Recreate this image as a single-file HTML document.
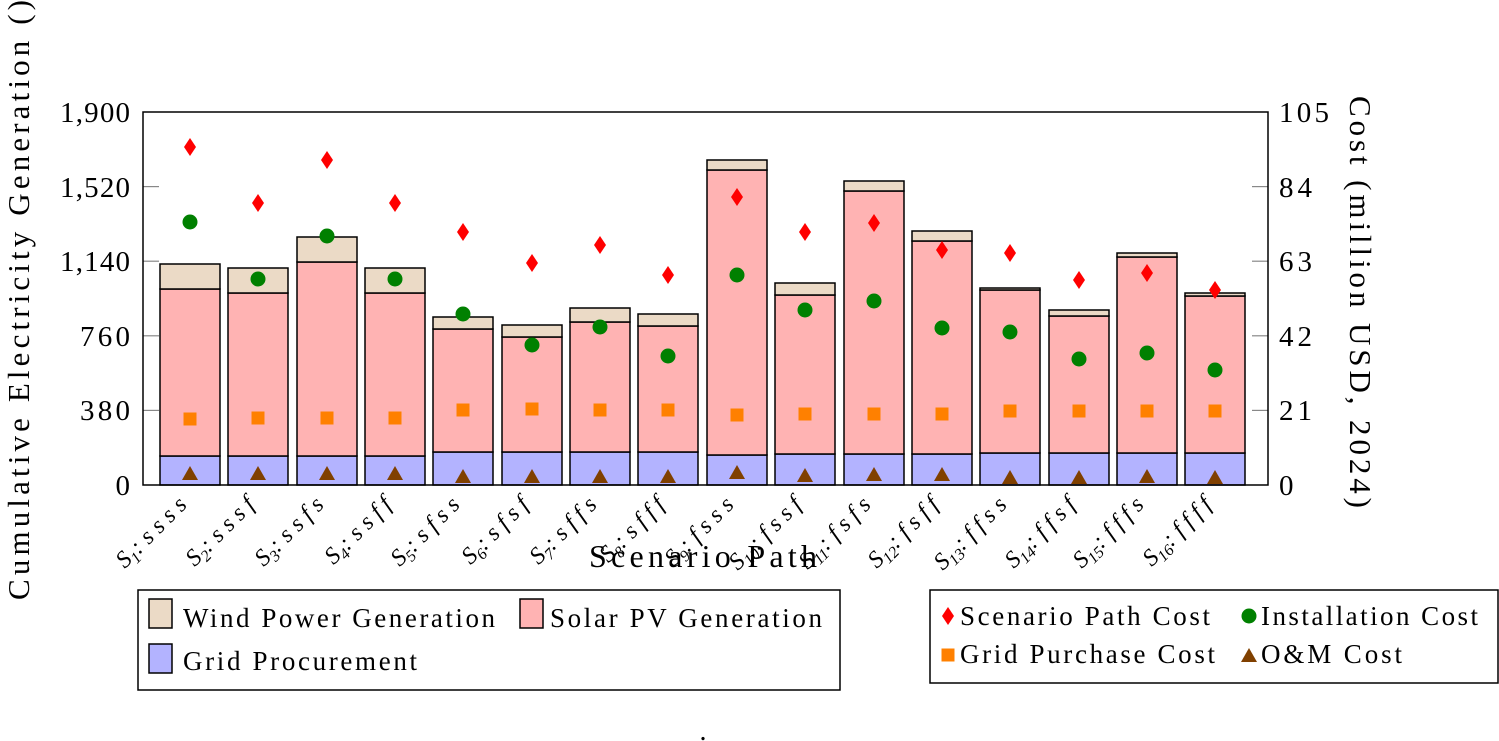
<!DOCTYPE html>
<html><head><meta charset="utf-8"><style>
html,body{margin:0;padding:0;background:#fff;}
svg{display:block;}
text{font-family:"Liberation Serif",serif;fill:#000;}
</style></head><body>
<svg width="1499" height="741" viewBox="0 0 1499 741" xmlns="http://www.w3.org/2000/svg">
<defs>
<polygon id="dm" points="0,-9 6,0 0,9 -6,0" fill="#f00"/>
<circle id="ci" cx="0" cy="0" r="7.5" fill="#008000"/>
<rect id="sq" x="-6.5" y="-6.5" width="13" height="13" fill="#ff8000"/>
<polygon id="tr" points="-8,7 0,-7 8,7" fill="#804000"/>
</defs>
<g stroke="#888" stroke-width="1.2">
<line x1="143" y1="410.4" x2="159" y2="410.4"/><line x1="143" y1="335.8" x2="159" y2="335.8"/><line x1="143" y1="261.2" x2="159" y2="261.2"/><line x1="143" y1="186.6" x2="159" y2="186.6"/>
<line x1="1252" y1="410.4" x2="1268" y2="410.4"/><line x1="1252" y1="335.8" x2="1268" y2="335.8"/><line x1="1252" y1="261.2" x2="1268" y2="261.2"/><line x1="1252" y1="186.6" x2="1268" y2="186.6"/>
</g>
<g stroke="#000" stroke-width="1.5">
<g fill="#b3b3ff">
<rect x="160" y="456" width="60" height="29"/><rect x="228" y="456" width="60" height="29"/><rect x="297" y="456" width="60" height="29"/><rect x="365" y="456" width="60" height="29"/>
<rect x="433" y="452" width="60" height="33"/><rect x="502" y="452" width="60" height="33"/><rect x="570" y="452" width="60" height="33"/><rect x="638" y="452" width="60" height="33"/>
<rect x="707" y="455" width="60" height="30"/><rect x="775" y="454" width="60" height="31"/><rect x="844" y="454" width="60" height="31"/><rect x="912" y="454" width="60" height="31"/>
<rect x="980" y="453" width="60" height="32"/><rect x="1049" y="453" width="60" height="32"/><rect x="1117" y="453" width="60" height="32"/><rect x="1185" y="453" width="60" height="32"/>
</g>
<g fill="#ffb3b3">
<rect x="160" y="289" width="60" height="167"/><rect x="228" y="293" width="60" height="163"/><rect x="297" y="262" width="60" height="194"/><rect x="365" y="293" width="60" height="163"/>
<rect x="433" y="329" width="60" height="123"/><rect x="502" y="337" width="60" height="115"/><rect x="570" y="322" width="60" height="130"/><rect x="638" y="326" width="60" height="126"/>
<rect x="707" y="170" width="60" height="285"/><rect x="775" y="295" width="60" height="159"/><rect x="844" y="191" width="60" height="263"/><rect x="912" y="241" width="60" height="213"/>
<rect x="980" y="290" width="60" height="163"/><rect x="1049" y="316" width="60" height="137"/><rect x="1117" y="257" width="60" height="196"/><rect x="1185" y="296" width="60" height="157"/>
</g>
<g fill="#ebdac6">
<rect x="160" y="264" width="60" height="25"/><rect x="228" y="268" width="60" height="25"/><rect x="297" y="237" width="60" height="25"/><rect x="365" y="268" width="60" height="25"/>
<rect x="433" y="317" width="60" height="12"/><rect x="502" y="325" width="60" height="12"/><rect x="570" y="308" width="60" height="14"/><rect x="638" y="314" width="60" height="12"/>
<rect x="707" y="160" width="60" height="10"/><rect x="775" y="283" width="60" height="12"/><rect x="844" y="181" width="60" height="10"/><rect x="912" y="231" width="60" height="10"/>
<rect x="980" y="288" width="60" height="2"/><rect x="1049" y="310" width="60" height="6"/><rect x="1117" y="253" width="60" height="4"/><rect x="1185" y="293" width="60" height="3"/>
</g>
</g>
<g>
<use href="#dm" x="190" y="147"/><use href="#ci" x="190" y="222"/><use href="#sq" x="190" y="419"/><use href="#tr" x="190" y="473"/>
<use href="#dm" x="258" y="203"/><use href="#ci" x="258" y="279"/><use href="#sq" x="258" y="418"/><use href="#tr" x="258" y="473"/>
<use href="#dm" x="327" y="160"/><use href="#ci" x="327" y="236"/><use href="#sq" x="327" y="418"/><use href="#tr" x="327" y="473"/>
<use href="#dm" x="395" y="203"/><use href="#ci" x="395" y="279"/><use href="#sq" x="395" y="418"/><use href="#tr" x="395" y="473"/>
<use href="#dm" x="463" y="232"/><use href="#ci" x="463" y="314"/><use href="#sq" x="463" y="410"/><use href="#tr" x="463" y="476"/>
<use href="#dm" x="532" y="263"/><use href="#ci" x="532" y="345"/><use href="#sq" x="532" y="409"/><use href="#tr" x="532" y="476"/>
<use href="#dm" x="600" y="245"/><use href="#ci" x="600" y="327"/><use href="#sq" x="600" y="410"/><use href="#tr" x="600" y="476"/>
<use href="#dm" x="668" y="275"/><use href="#ci" x="668" y="356"/><use href="#sq" x="668" y="410"/><use href="#tr" x="668" y="476"/>
<use href="#dm" x="737" y="197"/><use href="#ci" x="737" y="275"/><use href="#sq" x="737" y="415"/><use href="#tr" x="737" y="472"/>
<use href="#dm" x="805" y="232"/><use href="#ci" x="805" y="310"/><use href="#sq" x="805" y="414"/><use href="#tr" x="805" y="475"/>
<use href="#dm" x="874" y="223"/><use href="#ci" x="874" y="301"/><use href="#sq" x="874" y="414"/><use href="#tr" x="874" y="474"/>
<use href="#dm" x="942" y="250"/><use href="#ci" x="942" y="328"/><use href="#sq" x="942" y="414"/><use href="#tr" x="942" y="474"/>
<use href="#dm" x="1010" y="253"/><use href="#ci" x="1010" y="332"/><use href="#sq" x="1010" y="411"/><use href="#tr" x="1010" y="477"/>
<use href="#dm" x="1079" y="280"/><use href="#ci" x="1079" y="359"/><use href="#sq" x="1079" y="411"/><use href="#tr" x="1079" y="477"/>
<use href="#dm" x="1147" y="273"/><use href="#ci" x="1147" y="353"/><use href="#sq" x="1147" y="411"/><use href="#tr" x="1147" y="476"/>
<use href="#dm" x="1215" y="290"/><use href="#ci" x="1215" y="370"/><use href="#sq" x="1215" y="411"/><use href="#tr" x="1215" y="477"/>
</g>
<rect x="143" y="112" width="1125" height="373" fill="none" stroke="#000" stroke-width="1.5"/>
<g font-size="29" text-anchor="end">
<text x="130" y="495">0</text><text x="130" y="420" textLength="50">380</text><text x="130" y="346" textLength="50">760</text><text x="130" y="271" textLength="70">1,140</text><text x="130" y="197" textLength="70">1,520</text><text x="130" y="122" textLength="70">1,900</text>
</g>
<g font-size="29" text-anchor="start">
<text x="1279" y="495">0</text><text x="1279" y="420" textLength="33">21</text><text x="1279" y="346" textLength="33">42</text><text x="1279" y="271" textLength="33">63</text><text x="1279" y="197" textLength="33">84</text><text x="1279" y="122" textLength="50">105</text>
</g>
<text transform="translate(29,300) rotate(-90)" font-size="31" text-anchor="middle" textLength="600" lengthAdjust="spacing">Cumulative Electricity Generation ()</text>
<text transform="translate(1350,302) rotate(90)" font-size="31" text-anchor="middle" textLength="412" lengthAdjust="spacing">Cost (million USD, 2024)</text>
<g font-size="24" font-style="italic" text-anchor="end">
<text transform="translate(188,506) rotate(-45)">S<tspan font-size="16" dy="5">1</tspan><tspan dy="-5">: s s s s</tspan></text>
<text transform="translate(256,506) rotate(-45)">S<tspan font-size="16" dy="5">2</tspan><tspan dy="-5">: s s s f</tspan></text>
<text transform="translate(325,506) rotate(-45)">S<tspan font-size="16" dy="5">3</tspan><tspan dy="-5">: s s f s</tspan></text>
<text transform="translate(393,506) rotate(-45)">S<tspan font-size="16" dy="5">4</tspan><tspan dy="-5">: s s f f</tspan></text>
<text transform="translate(461,506) rotate(-45)">S<tspan font-size="16" dy="5">5</tspan><tspan dy="-5">: s f s s</tspan></text>
<text transform="translate(530,506) rotate(-45)">S<tspan font-size="16" dy="5">6</tspan><tspan dy="-5">: s f s f</tspan></text>
<text transform="translate(598,506) rotate(-45)">S<tspan font-size="16" dy="5">7</tspan><tspan dy="-5">: s f f s</tspan></text>
<text transform="translate(666,506) rotate(-45)">S<tspan font-size="16" dy="5">8</tspan><tspan dy="-5">: s f f f</tspan></text>
<text transform="translate(735,506) rotate(-45)">S<tspan font-size="16" dy="5">9</tspan><tspan dy="-5">: f s s s</tspan></text>
<text transform="translate(803,506) rotate(-45)">S<tspan font-size="16" dy="5">10</tspan><tspan dy="-5">: f s s f</tspan></text>
<text transform="translate(872,506) rotate(-45)">S<tspan font-size="16" dy="5">11</tspan><tspan dy="-5">: f s f s</tspan></text>
<text transform="translate(940,506) rotate(-45)">S<tspan font-size="16" dy="5">12</tspan><tspan dy="-5">: f s f f</tspan></text>
<text transform="translate(1008,506) rotate(-45)">S<tspan font-size="16" dy="5">13</tspan><tspan dy="-5">: f f s s</tspan></text>
<text transform="translate(1077,506) rotate(-45)">S<tspan font-size="16" dy="5">14</tspan><tspan dy="-5">: f f s f</tspan></text>
<text transform="translate(1145,506) rotate(-45)">S<tspan font-size="16" dy="5">15</tspan><tspan dy="-5">: f f f s</tspan></text>
<text transform="translate(1213,506) rotate(-45)">S<tspan font-size="16" dy="5">16</tspan><tspan dy="-5">: f f f f</tspan></text>
</g>
<text x="703" y="567" font-size="32" text-anchor="middle" textLength="228" lengthAdjust="spacing">Scenario Path</text>
<text x="703" y="740" font-size="28" text-anchor="middle">.</text>
<rect x="138" y="590" width="702" height="100" fill="#fff" stroke="#000" stroke-width="1.5"/>
<rect x="149" y="599" width="23" height="29" fill="#ebdac6" stroke="#000" stroke-width="1.5"/>
<text x="183" y="627" font-size="27" textLength="312" lengthAdjust="spacing">Wind Power Generation</text>
<rect x="520" y="599" width="23" height="29" fill="#ffb3b3" stroke="#000" stroke-width="1.5"/>
<text x="550" y="627" font-size="27" textLength="272" lengthAdjust="spacing">Solar PV Generation</text>
<rect x="149" y="644" width="23" height="29" fill="#b3b3ff" stroke="#000" stroke-width="1.5"/>
<text x="183" y="670" font-size="27" textLength="234" lengthAdjust="spacing">Grid Procurement</text>
<rect x="930" y="590" width="568" height="93" fill="#fff" stroke="#000" stroke-width="1.5"/>
<use href="#dm" x="948" y="616"/>
<text x="960" y="625" font-size="27" textLength="250" lengthAdjust="spacing">Scenario Path Cost</text>
<use href="#ci" x="1249" y="616"/>
<text x="1261" y="625" font-size="27" textLength="217" lengthAdjust="spacing">Installation Cost</text>
<use href="#sq" x="948" y="655"/>
<text x="960" y="663" font-size="27" textLength="255" lengthAdjust="spacing">Grid Purchase Cost</text>
<use href="#tr" x="1249" y="655"/>
<text x="1261" y="663" font-size="27" textLength="141" lengthAdjust="spacing">O&amp;M Cost</text>
</svg>
</body></html>
